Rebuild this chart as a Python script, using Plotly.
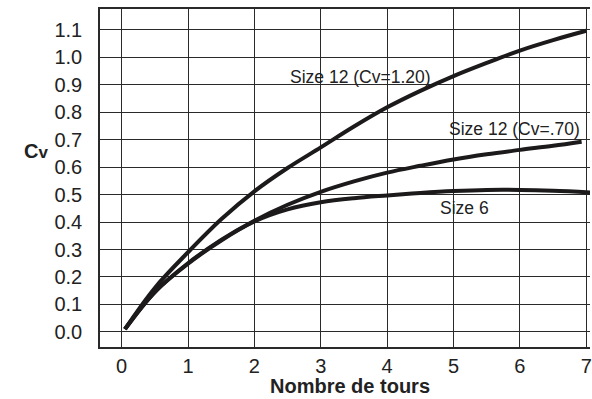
import plotly.graph_objects as go

# Number of turns (x) and Cv values for each curve
turns = [0.05, 0.5, 1.0, 1.5, 2.0, 2.5, 3.0, 3.5, 4.0, 4.5, 5.0, 5.5, 6.0, 6.5, 7.0]
cv_size12_120 = [0.01, 0.16, 0.29, 0.41, 0.512, 0.597, 0.672, 0.748, 0.818, 0.878, 0.932, 0.98, 1.025, 1.063, 1.097]

turns_size12_070 = [0.05, 0.5, 1.0, 1.5, 2.0, 2.5, 3.0, 3.5, 4.0, 4.5, 5.0, 5.5, 6.0, 6.5, 6.93]
cv_size12_070 = [0.01, 0.145, 0.25, 0.335, 0.405, 0.463, 0.51, 0.548, 0.58, 0.605, 0.628, 0.647, 0.663, 0.678, 0.693]

turns_size6 = [0.05, 0.5, 1.0, 1.5, 2.0, 2.5, 3.0, 3.5, 4.0, 4.5, 5.0, 5.5, 6.0, 6.5, 7.06]
cv_size6 = [0.01, 0.145, 0.248, 0.333, 0.402, 0.446, 0.472, 0.487, 0.497, 0.506, 0.513, 0.517, 0.517, 0.514, 0.508]

x_ticks = [0, 1, 2, 3, 4, 5, 6, 7]
y_ticks = [0.0, 0.1, 0.2, 0.3, 0.4, 0.5, 0.6, 0.7, 0.8, 0.9, 1.0, 1.1]

curve_labels = [
    ("Size 12 (Cv=1.20)", 3.6, 0.929),
    ("Size 12 (Cv=.70)", 5.92, 0.738),
    ("Size 6", 5.17, 0.451),
]

FONT = "Liberation Sans, Arial, sans-serif"
INK = "#1c1a1a"
GRID = "#2a2a2a"
TEXT = "#222"

fig = go.Figure()
for xs, ys in [(turns, cv_size12_120), (turns_size12_070, cv_size12_070), (turns_size6, cv_size6)]:
    fig.add_trace(go.Scatter(
        x=xs, y=ys, mode="lines", line=dict(color=INK, width=4, shape="spline", smoothing=1.0),
        showlegend=False, hoverinfo="skip",
    ))

for text, lx, ly in curve_labels:
    fig.add_annotation(x=lx, y=ly, text=text, showarrow=False,
                       font=dict(family=FONT, size=17.5, color=TEXT))

fig.add_annotation(xref="paper", yref="paper", x=0.51, y=-0.116, yanchor="middle",
                   text="<b>Nombre de tours</b>", showarrow=False,
                   font=dict(family=FONT, size=20, color=TEXT))
fig.add_annotation(xref="paper", yref="paper", x=-0.13, y=0.58, xanchor="center",
                   text="<b>C<span style='font-size:17px'>v</span></b>", showarrow=False,
                   font=dict(family=FONT, size=20, color=TEXT))

fig.update_xaxes(
    range=[-0.326, 7.056], tickvals=x_ticks, ticks="", ticklabelstandoff=0,
    ticklabeloverflow="allow",
    showgrid=True, gridcolor=GRID, gridwidth=1.2, zeroline=False,
    showline=True, linecolor=GRID, linewidth=1.5, mirror=True,
    tickfont=dict(family=FONT, size=20, color=TEXT),
)
fig.update_yaxes(
    range=[-0.0553, 1.1764], tickvals=y_ticks, tickformat=".1f", ticks="", ticklabelstandoff=12,
    showgrid=True, gridcolor=GRID, gridwidth=1.2, zeroline=False,
    showline=True, linecolor=GRID, linewidth=1.5, mirror=False,
    tickfont=dict(family=FONT, size=20, color=TEXT),
)

fig.update_layout(
    width=592, height=399,
    margin=dict(l=100, r=0, t=9, b=52),
    plot_bgcolor="white", paper_bgcolor="white",
)

fig.write_html("out.html")
